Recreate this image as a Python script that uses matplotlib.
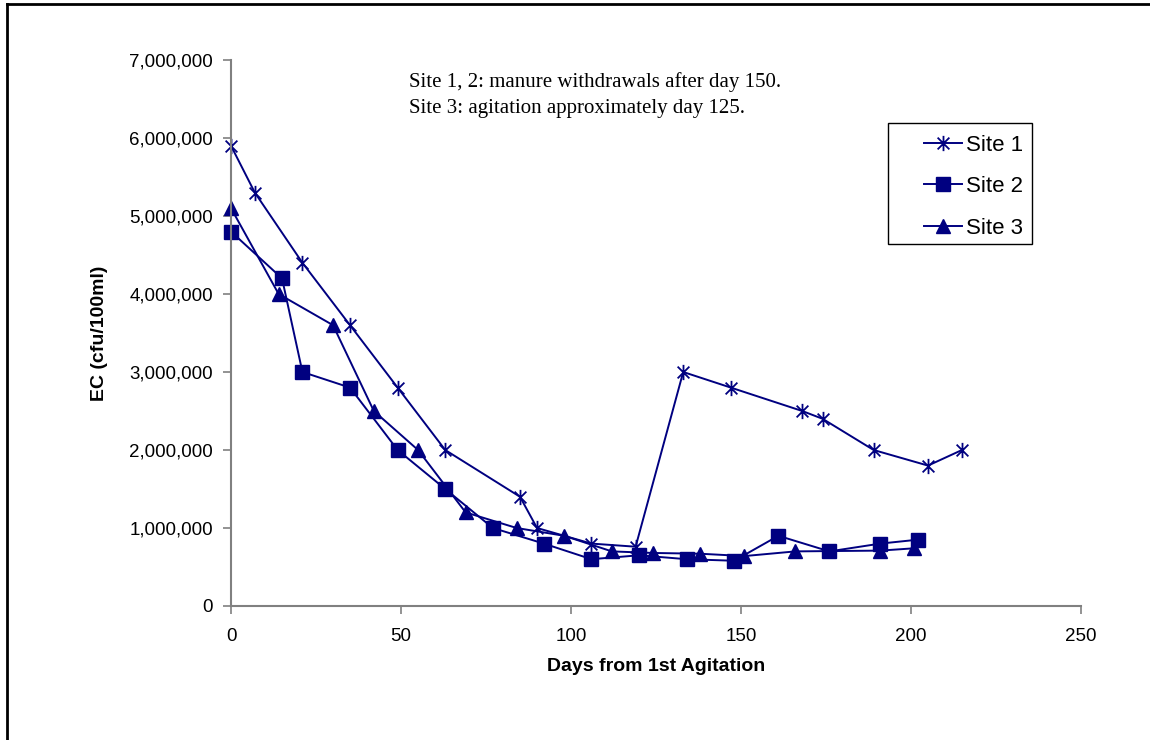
import numpy as np
import matplotlib
matplotlib.use("Agg")
import matplotlib.pyplot as plt
from matplotlib.path import Path
from matplotlib.lines import Line2D
from matplotlib.patches import Rectangle
from matplotlib.ticker import FuncFormatter

# DATA
site1_days = [0, 7, 21, 35, 49, 63, 85, 90, 106, 119, 133, 147, 168, 174, 189, 205, 215]
site1_ec = [5900000, 5300000, 4400000, 3600000, 2800000, 2000000, 1400000, 1000000,
            800000, 760000, 3000000, 2800000, 2500000, 2400000, 2000000, 1800000, 2000000]

site2_days = [0, 15, 21, 35, 49, 63, 77, 92, 106, 120, 134, 148, 161, 176, 191, 202]
site2_ec = [4800000, 4200000, 3000000, 2800000, 2000000, 1500000, 1000000, 800000,
            600000, 650000, 600000, 580000, 900000, 700000, 800000, 850000]

site3_days = [0, 14, 30, 42, 55, 69, 84, 98, 112, 124, 138, 151, 166, 191, 201]
site3_ec = [5100000, 4000000, 3600000, 2500000, 2000000, 1200000, 1000000, 900000,
            700000, 680000, 670000, 640000, 700000, 710000, 740000]

x_ticks = [0, 50, 100, 150, 200, 250]
y_ticks = [0, 1000000, 2000000, 3000000, 4000000, 5000000, 6000000, 7000000]

NAVY = "#000080"
GRAY = "#808080"

plt.rcParams["font.family"] = ["Liberation Sans", "DejaVu Sans"]

# excel style asterisk: an x with a vertical bar
star = Path([(-1, -1), (1, 1), (-1, 1), (1, -1), (0, -1.3), (0, 1.3)],
            [Path.MOVETO, Path.LINETO, Path.MOVETO, Path.LINETO, Path.MOVETO, Path.LINETO])

fig = plt.figure(figsize=(11.5, 7.4), dpi=100)
ax = fig.add_axes([0.2009, 0.1811, 0.7391, 0.7378])

ax.plot(site1_days, site1_ec, color=NAVY, lw=1.4, marker=star, markersize=11,
        markeredgewidth=1.3, markerfacecolor="none", markeredgecolor=NAVY,
        label="Site 1", clip_on=False)
ax.plot(site2_days, site2_ec, color=NAVY, lw=1.4, marker="s", markersize=10,
        markeredgecolor=NAVY, label="Site 2", clip_on=False)
ax.plot(site3_days, site3_ec, color=NAVY, lw=1.4, marker="^", markersize=10.5,
        markeredgecolor=NAVY, label="Site 3", clip_on=False)

ax.set_xlim(0, 250)
ax.set_ylim(0, 7000000)
ax.set_xticks(x_ticks)
ax.set_yticks(y_ticks)
ax.yaxis.set_major_formatter(FuncFormatter(lambda v, p: f"{int(v):,}"))

for s in ["top", "right"]:
    ax.spines[s].set_visible(False)
for s in ["left", "bottom"]:
    ax.spines[s].set_color(GRAY)
    ax.spines[s].set_linewidth(1.5)
ax.tick_params(axis="both", direction="out", length=6, width=1.2, color=GRAY,
               labelsize=13.5, labelcolor="black")
ax.tick_params(axis="y", pad=7)
ax.tick_params(axis="x", pad=10)

ax.set_xlabel("Days from 1st Agitation", fontsize=14, fontweight="bold")
ax.set_ylabel("EC (cfu/100ml)", fontsize=14, fontweight="bold")
ax.xaxis.set_label_coords(0.5, -0.095)
ax.yaxis.set_label_coords(-0.145, 0.5)

serif = ["Liberation Serif", "DejaVu Serif"]
fig.text(0.3557, 0.8824, "Site 1, 2: manure withdrawals after day 150.",
         family=serif, fontsize=15, va="baseline", ha="left")
fig.text(0.3557, 0.8473, "Site 3: agitation approximately day 125.",
         family=serif, fontsize=15, va="baseline", ha="left")

# legend without its own frame, the box is drawn separately so its padding matches
leg = ax.legend(loc="upper left", bbox_to_anchor=(0.8035, 0.818), bbox_transform=fig.transFigure,
                fontsize=16, frameon=False, borderpad=0, labelspacing=0.92,
                handlelength=1.71, handletextpad=0.2, borderaxespad=0)
fig.add_artist(Rectangle((888 / 1150, 1 - 244 / 740), 144 / 1150, 121 / 740,
                         transform=fig.transFigure, fill=False, edgecolor="black", lw=1.0))

# outer frame (only top and left edges visible in the original)
fig.add_artist(Line2D([0.006, 1.0], [0.994, 0.994], transform=fig.transFigure, color="black", lw=2))
fig.add_artist(Line2D([0.006, 0.006], [0.0, 0.994], transform=fig.transFigure, color="black", lw=2))

fig.savefig("out.png", dpi=100)
